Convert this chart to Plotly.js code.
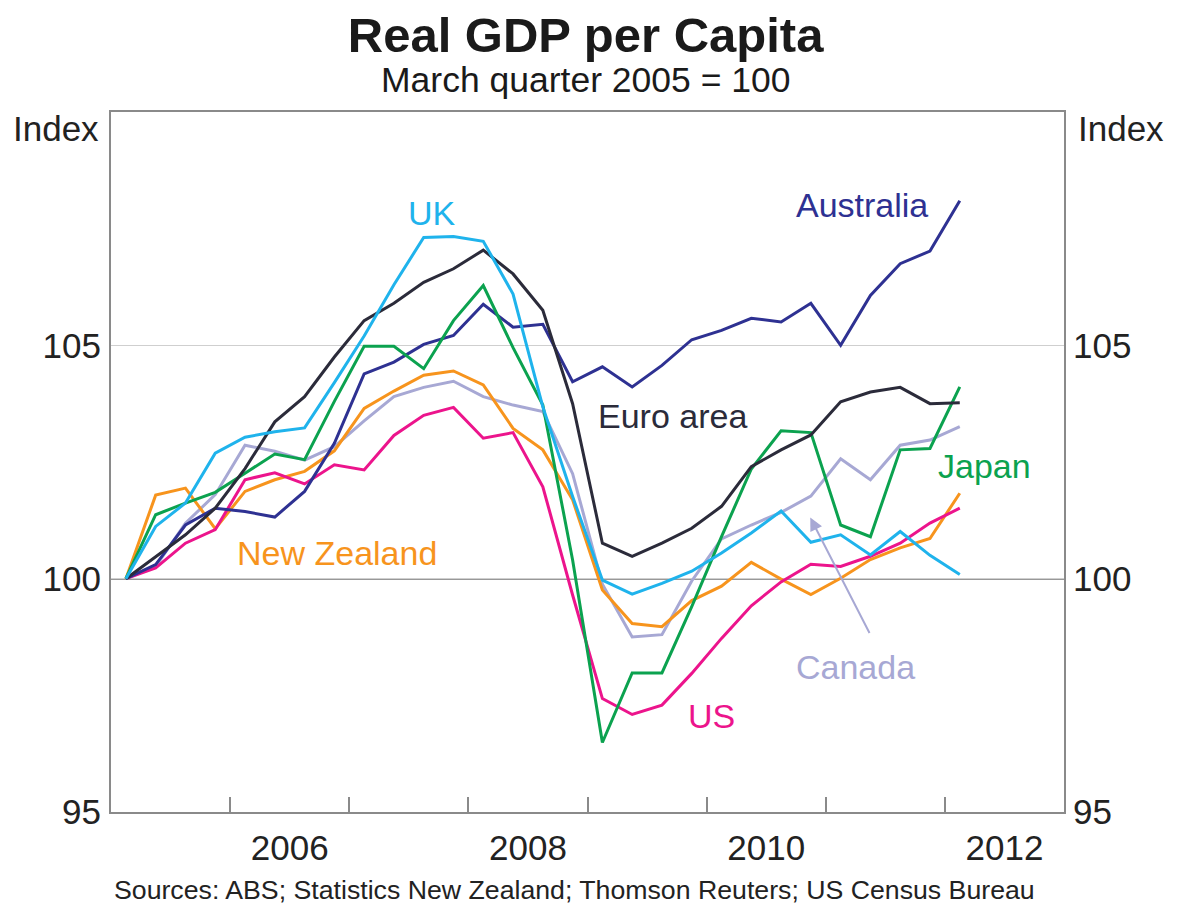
<!DOCTYPE html>
<html>
<head>
<meta charset="utf-8">
<script src="https://cdn.plot.ly/plotly-3.0.1.min.js"></script>
<style>html,body{margin:0;padding:0;background:#fff;}#chart{width:1183px;height:911px;}</style>
</head>
<body>
<div id="chart"></div>
<script>
// Quarters: March quarter 2005 .. March quarter 2012
const quarters = [
  '2005Q1','2005Q2','2005Q3','2005Q4','2006Q1','2006Q2','2006Q3','2006Q4',
  '2007Q1','2007Q2','2007Q3','2007Q4','2008Q1','2008Q2','2008Q3','2008Q4',
  '2009Q1','2009Q2','2009Q3','2009Q4','2010Q1','2010Q2','2010Q3','2010Q4',
  '2011Q1','2011Q2','2011Q3','2011Q4','2012Q1'
];
const australia = [100, 100.3, 101.15, 101.51, 101.44, 101.32, 101.87, 102.9, 104.39, 104.64, 105.02, 105.21, 105.88, 105.39, 105.45, 104.22, 104.54, 104.11, 104.57, 105.12, 105.32, 105.58, 105.5, 105.9, 105.0, 106.07, 106.75, 107.02, 108.1];
const euroArea  = [100, 100.48, 100.94, 101.51, 102.36, 103.36, 103.9, 104.75, 105.53, 105.9, 106.35, 106.64, 107.04, 106.53, 105.75, 103.75, 100.76, 100.48, 100.76, 101.08, 101.55, 102.4, 102.76, 103.08, 103.79, 104.0, 104.1, 103.75, 103.77];
const uk        = [100, 101.12, 101.62, 102.69, 103.03, 103.15, 103.23, 104.2, 105.2, 106.3, 107.31, 107.33, 107.23, 106.1, 103.68, 101.76, 99.97, 99.67, 99.9, 100.16, 100.55, 100.98, 101.45, 100.78, 100.94, 100.51, 101.01, 100.5, 100.09];
const japan     = [100, 101.37, 101.62, 101.85, 102.26, 102.67, 102.55, 103.8, 104.98, 104.98, 104.5, 105.53, 106.28, 104.95, 103.72, 100.4, 96.49, 97.98, 97.98, 99.4, 100.9, 102.35, 103.17, 103.13, 101.15, 100.9, 102.76, 102.79, 104.11];
const us        = [100, 100.23, 100.76, 101.05, 102.12, 102.27, 102.03, 102.44, 102.33, 103.07, 103.5, 103.67, 103.01, 103.13, 101.97, 99.65, 97.43, 97.09, 97.29, 97.97, 98.72, 99.42, 99.93, 100.31, 100.26, 100.48, 100.76, 101.19, 101.51];
const newZealand= [100, 101.79, 101.94, 101.07, 101.87, 102.12, 102.3, 102.74, 103.65, 104.02, 104.36, 104.45, 104.15, 103.22, 102.76, 101.69, 99.76, 99.04, 98.97, 99.53, 99.84, 100.35, 99.99, 99.66, 100.01, 100.41, 100.66, 100.86, 101.83];
const canada    = [100, 100.26, 101.19, 101.8, 102.86, 102.73, 102.54, 102.83, 103.38, 103.9, 104.1, 104.23, 103.9, 103.72, 103.58, 102.25, 99.88, 98.75, 98.8, 99.95, 100.85, 101.15, 101.42, 101.77, 102.57, 102.12, 102.86, 102.97, 103.26];

const yearLabels = ['2006', '2008', '2010', '2012'];
const yTicks = [95, 100, 105];
const baseValue = 100;

// quarter label -> mid-quarter position on a year scale
const xPos = quarters.map(q => {
  const yr = parseInt(q.slice(0, 4), 10);
  const qn = parseInt(q.slice(5), 10);
  return yr + (qn - 0.5) / 4;
});

const FONT = '"Liberation Sans", Arial, Helvetica, sans-serif';
const colors = {
  australia: '#2e3192', euro: '#2b2b3a', uk: '#1fb3ec', japan: '#0ba24f',
  us: '#ec148c', nz: '#f7941d', canada: '#a7a8d4'
};

function line(name, y, color) {
  return {x: xPos, y: y, type: 'scatter', mode: 'lines', name: name,
          line: {color: color, width: 3}, hoverinfo: 'skip'};
}

const traces = [
  line('Canada', canada, colors.canada),
  line('New Zealand', newZealand, colors.nz),
  line('US', us, colors.us),
  line('Australia', australia, colors.australia),
  line('Japan', japan, colors.japan),
  line('Euro area', euroArea, colors.euro),
  line('UK', uk, colors.uk),
  // invisible trace to activate the right-hand axis
  {x: xPos, y: uk, type: 'scatter', mode: 'lines', yaxis: 'y2', line: {width: 0}, opacity: 0, hoverinfo: 'skip', showlegend: false}
];

const firstYear = parseInt(quarters[0].slice(0, 4), 10);
const lastYear = parseInt(quarters[quarters.length - 1].slice(0, 4), 10) + 1;
const yearTickVals = [];
for (let y = firstYear + 1; y < lastYear; y++) yearTickVals.push(y);
const labelVals = yearLabels.map(l => parseInt(l, 10) + 0.5);

const yRange = [95, 110];
const frameColor = '#8a8a8a';

function label(text, x, y, color) {
  return {text: text, x: x, y: y, xref: 'x', yref: 'y', showarrow: false,
          font: {family: FONT, size: 34, color: color}};
}

const layout = {
  width: 1183, height: 911,
  margin: {l: 111, r: 119, t: 112, b: 99},
  paper_bgcolor: '#ffffff', plot_bgcolor: '#ffffff',
  showlegend: false,
  title: {text: '<b>Real GDP per Capita</b>', x: 0.495, xanchor: 'center', y: 0.962, yanchor: 'middle',
          font: {family: FONT, size: 49, color: '#1a1a1a'}},
  xaxis: {
    range: [firstYear, lastYear], showgrid: false, zeroline: false,
    tickvals: labelVals, ticktext: yearLabels, ticks: '',
    tickfont: {family: FONT, size: 35, color: '#222'},
    showline: true, linecolor: frameColor, linewidth: 2, mirror: true,
    minor: {tickvals: yearTickVals, ticks: 'inside', ticklen: 15, tickcolor: frameColor, tickwidth: 2, showgrid: false},
    ticklabelstandoff: 4
  },
  yaxis: {
    range: yRange, tickvals: yTicks, ticks: '', zeroline: false,
    showgrid: true, gridcolor: '#cfcfcf', gridwidth: 1.5,
    tickfont: {family: FONT, size: 35, color: '#222'},
    showline: true, linecolor: frameColor, linewidth: 2, mirror: true,
    ticklabelstandoff: 1
  },
  yaxis2: {
    range: yRange, tickvals: yTicks, ticks: '', overlaying: 'y', side: 'right',
    showgrid: false, zeroline: false,
    tickfont: {family: FONT, size: 35, color: '#222'},
    ticklabelstandoff: 8
  },
  shapes: [
    {type: 'line', xref: 'paper', x0: 0, x1: 1, yref: 'y', y0: baseValue, y1: baseValue,
     line: {color: '#333', width: 1.5}, layer: 'below'}
  ],
  annotations: [
    {text: 'March quarter 2005 = 100', xref: 'paper', yref: 'paper', x: 0.498, y: 1.046, yanchor: 'middle', showarrow: false,
     font: {family: FONT, size: 35.5, color: '#1a1a1a'}},
    {text: 'Index', xref: 'paper', yref: 'paper', x: -0.058, y: 0.977, xanchor: 'center', yanchor: 'middle', showarrow: false,
     font: {family: FONT, size: 35, color: '#222'}},
    {text: 'Index', xref: 'paper', yref: 'paper', x: 1.06, y: 0.977, xanchor: 'center', yanchor: 'middle', showarrow: false,
     font: {family: FONT, size: 35, color: '#222'}},
    {text: 'Sources: ABS; Statistics New Zealand; Thomson Reuters; US Census Bureau', xref: 'paper', yref: 'paper',
     x: 0.486, y: -0.111, yanchor: 'middle', showarrow: false, font: {family: FONT, size: 26.7, color: '#222'}},
    label('UK', 2007.695, 107.83, colors.uk),
    label('Australia', 2011.305, 108.0, colors.australia),
    label('Euro area', 2009.71, 103.49, colors.euro),
    label('Japan', 2012.33, 102.41, colors.japan),
    label('New Zealand', 2006.9, 100.55, colors.nz),
    label('Canada', 2011.25, 98.11, colors.canada),
    label('US', 2010.04, 97.06, colors.us),
    {x: 2010.87, y: 101.31, xref: 'x', yref: 'y', text: '', showarrow: true, ax: 60, ay: 117,
     arrowcolor: colors.canada, arrowwidth: 2, arrowhead: 2, arrowsize: 1.3}
  ]
};

Plotly.newPlot('chart', traces, layout, {staticPlot: true, displayModeBar: false});
</script>
</body>
</html>
